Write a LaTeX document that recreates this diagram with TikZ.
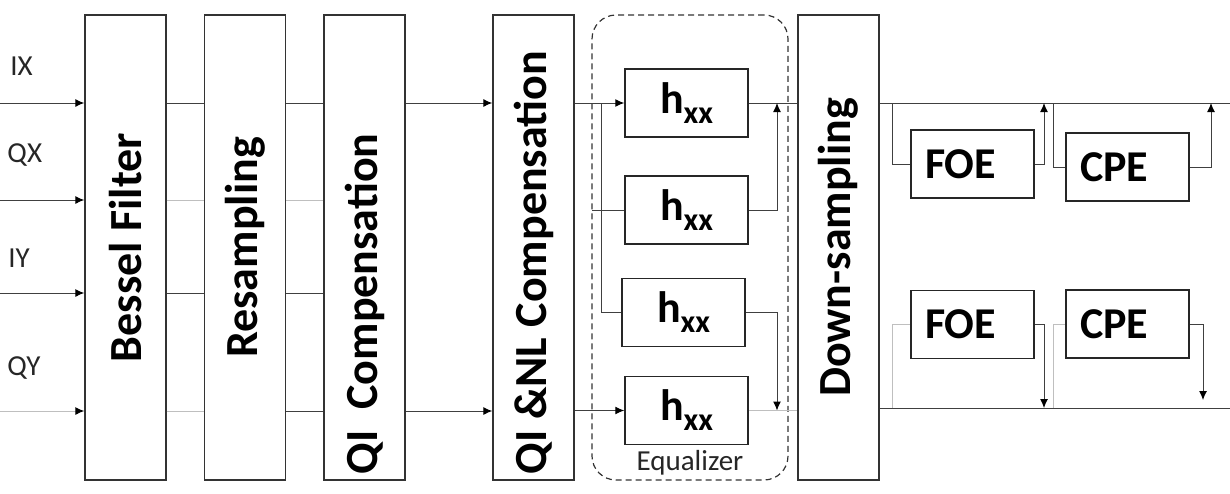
\documentclass[tikz,border=0pt]{standalone}
\usepackage{fontspec}
\setmainfont{Carlito}
\usetikzlibrary{arrows.meta,positioning}
\newcommand{\hxx}{h\raisebox{-5pt}{\fontsize{16}{16}\selectfont xx}}

\begin{document}
\begin{tikzpicture}[x=0.5pt,y=-0.5pt,>={Latex[length=4.5pt,width=4pt,color=black]},
  stage/.style={draw=black!80,line width=0.7pt,minimum width=40.5pt,minimum height=232.5pt,inner sep=0pt,font=\fontsize{23}{23}\selectfont\bfseries},
  tap/.style={draw=black!85,line width=0.75pt,minimum width=61.5pt,minimum height=34pt,inner sep=0pt,font=\fontsize{22}{22}\selectfont\bfseries},
  est/.style={draw=black!85,line width=0.75pt,text width=47.5pt,inner xsep=7pt,inner ysep=0pt,minimum height=34pt,align=left,font=\fontsize{22}{22}\selectfont\bfseries},
  wire/.style={draw=black!75,line width=0.5pt},
  faint/.style={draw=black!25,line width=0.5pt},
  sig/.style={font=\fontsize{14.5}{14.5}\selectfont,anchor=west,inner sep=0pt,text=black!85}]
\useasboundingbox (0,0) rectangle (1230,493);

% processing stages
\node[stage] (bessel) at (125.5,247.5) {\rotatebox{90}{Bessel Filter}};
\node[stage] (resamp) at (245,247.5) {\rotatebox{90}{Resampling}};
\node[stage] (qicomp) at (364.5,247.5) {\rotatebox{90}{\makebox[226.5pt][l]{QI\ \ Compensation}}};
\node[stage] (qinl) at (533.5,247.5) {\rotatebox{90}{\makebox[226.5pt][l]{QI \&NL Compensation}}};
\node[draw=black!80,dash pattern=on 3pt off 2pt,line width=0.6pt,rounded corners=12pt,minimum width=98pt,minimum height=232.5pt] (eq) at (690,247.5) {};
\node[font=\fontsize{14.5}{14.5}\selectfont,text=black!85] (eqlabel) at (690,463) {Equalizer};
\node[stage] (down) at (838.5,247.5) {\rotatebox{90}{Down-sampling}};

% equalizer taps
\node[tap] (h1) at (686.5,103) {\hxx};
\node[tap] (h2) at (686.5,210) {\hxx};
\node[tap] (h3) at (683.5,312.5) {\hxx};
\node[tap] (h4) at (686.5,410.5) {\hxx};

% estimators
\node[est] (foe1) at (972.5,164) {FOE};
\node[est] (cpe1) at (1127.5,167) {CPE};
\node[est] (foe2) at (972.5,324.5) {FOE};
\node[est] (cpe2) at (1127.5,324) {CPE};

% inputs
\coordinate (ix) at (0,103);
\coordinate (qx) at (0,200);
\coordinate (iy) at (0,293);
\coordinate (qy) at (0,411);
\node[sig] (lix) at (10,66) {IX};
\node[sig] (lqx) at (7,155) {QX};
\node[sig] (liy) at (8,258) {IY};
\node[sig] (lqy) at (7,368) {QY};

\draw[wire,->] (ix) -- (bessel.west |- ix);
\draw[wire,->] (qx) -- (bessel.west |- qx);
\draw[wire,->] (iy) -- (bessel.west |- iy);
\draw[faint,->] (qy) -- (bessel.west |- qy);

\draw[wire] (bessel.east |- ix) -- (resamp.west |- ix);
\draw[faint] (bessel.east |- qx) -- (resamp.west |- qx);
\draw[wire] (bessel.east |- iy) -- (resamp.west |- iy);
\draw[faint] (bessel.east |- qy) -- (resamp.west |- qy);

\draw[wire] (resamp.east |- ix) -- (qicomp.west |- ix);
\draw[faint] (resamp.east |- qx) -- (qicomp.west |- qx);
\draw[wire] (resamp.east |- iy) -- (qicomp.west |- iy);
\draw[wire] (resamp.east |- qy) -- (qicomp.west |- qy);

\draw[wire,->] (qicomp.east |- ix) -- (qinl.west |- ix);
\draw[wire,->] (qicomp.east |- qy) -- (qinl.west |- qy);

% equalizer wiring
\coordinate (split) at (601,103);
\coordinate (h2in) at (592,210);
\coordinate (merge) at (777,0);
\draw[wire,->] (qinl.east |- h1) -- (h1.west);
\draw[wire] (split) |- (h3.west);
\draw[wire] (h2in) -- (h2.west);
\draw[wire,->] (qinl.east |- h4) -- (h4.west);
\draw[wire] (h1.east) -- (down.west |- h1);
\draw[wire,->] (h2.east) -| (merge |- h1);
\draw[wire,->] (h3.east) -| (merge |- h4);
\draw[faint] (h4.east) -- (down.west |- h4);

% outputs and estimators
\coordinate (outx) at (1230,103);
\coordinate (outy) at (1230,408);
\coordinate (tapx) at (892,0);
\coordinate (fbx) at (1044,0);
\coordinate (cpx) at (1053,0);
\coordinate (cbx) at (1211,0);
\coordinate (cby) at (1203,400);
\draw[wire] (down.east |- outx) -- (outx);
\draw[wire] (down.east |- outy) -- (outy);
\draw[wire] (tapx |- outx) |- (foe1.west);
\draw[wire,->] (foe1.east) -| (fbx |- outx);
\draw[wire] (cpx |- outx) |- (cpe1.west);
\draw[wire,->] (cpe1.east) -| (cbx |- outx);
\draw[faint] (tapx |- outy) |- (foe2.west);
\draw[wire,->] (foe2.east) -| (fbx |- outy);
\draw[faint] (cpx |- outy) |- (cpe2.west);
\draw[wire,->] (cpe2.east) -| (cby);
\end{tikzpicture}
\end{document}
